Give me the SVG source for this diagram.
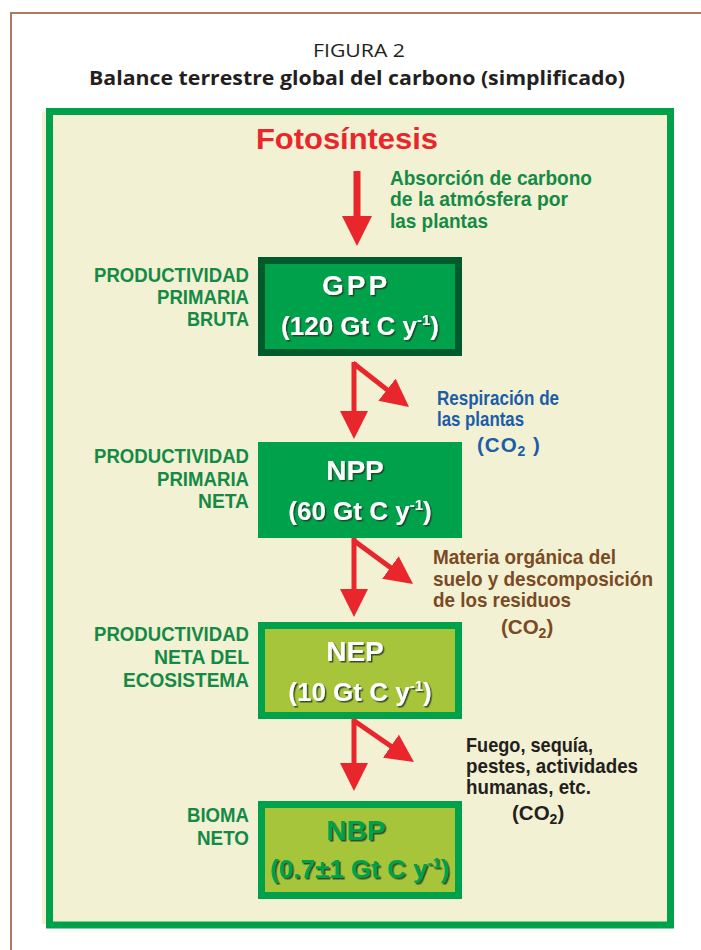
<svg xmlns="http://www.w3.org/2000/svg" width="701" height="950" viewBox="0 0 701 950">
<defs>
<style>
.lbl{font-family:"Liberation Sans",Arial,sans-serif;font-weight:bold;font-size:20.5px;fill:#148A46;text-anchor:end}
.desc{font-family:"Liberation Sans",Arial,sans-serif;font-weight:bold;font-size:20.5px}
.bt{font-family:"Liberation Sans",Arial,sans-serif;font-weight:bold;font-size:28px;fill:#ffffff;text-anchor:middle}
.bn{font-family:"Liberation Sans",Arial,sans-serif;font-weight:bold;font-size:26px;fill:#ffffff;text-anchor:middle}
.arr{stroke:#E8262B;stroke-width:5;fill:none}
</style>
<filter id="sh" x="-10%" y="-30%" width="120%" height="160%">
<feDropShadow dx="1.5" dy="1.5" stdDeviation="0.4" flood-color="#1B3A22" flood-opacity="0.85"/>
</filter>
<marker id="head" markerUnits="userSpaceOnUse" markerWidth="28" markerHeight="28" refX="8" refY="14" orient="auto">
<path d="M0,0 L28,14 L0,28 Z" fill="#E8262B"/>
</marker>
<marker id="headL" markerUnits="userSpaceOnUse" markerWidth="30" markerHeight="30" refX="10" refY="15" orient="auto">
<path d="M0,0 L30,15 L0,30 Z" fill="#E8262B"/>
</marker>
</defs>
<rect x="0" y="0" width="701" height="950" fill="#ffffff"/>
<g id="frame">
<path d="M11,950 L11,13 L701,13" fill="none" stroke="#B07860" stroke-width="2"/>
<text x="359" y="57" font-family="'Open Sans','Noto Sans',sans-serif" font-size="18" fill="#231F20" text-anchor="middle" textLength="92" lengthAdjust="spacingAndGlyphs">FIGURA 2</text>
<text x="357" y="85" font-family="'Open Sans','Noto Sans',sans-serif" font-size="19" font-weight="bold" fill="#231F20" text-anchor="middle" textLength="536" lengthAdjust="spacingAndGlyphs">Balance terrestre global del carbono (simplificado)</text>
<rect x="42" y="112" width="628" height="812" fill="#F3F1D3"/>
<rect x="49.5" y="111.5" width="621" height="813.5" fill="none" stroke="#00A14B" stroke-width="7"/>
</g>
<g id="fotosintesis">
<text x="347" y="149" font-family="'Liberation Sans',Arial,sans-serif" font-weight="bold" font-size="30" fill="#E8262B" text-anchor="middle" textLength="182" lengthAdjust="spacingAndGlyphs">Fotosíntesis</text>
</g>
<g id="absorcion" class="desc" fill="#148A46">
<text x="390" y="185" textLength="202" lengthAdjust="spacingAndGlyphs">Absorción de carbono</text>
<text x="390" y="206" textLength="178" lengthAdjust="spacingAndGlyphs">de la atmósfera por</text>
<text x="390" y="228" textLength="98" lengthAdjust="spacingAndGlyphs">las plantas</text>
</g>
<g id="gpp">
<rect x="261.5" y="260.5" width="197" height="92" fill="#00A14B" stroke="#005A2B" stroke-width="7"/>
<text class="bt" x="356" y="295" letter-spacing="3" filter="url(#sh)">GPP</text>
<text class="bn" x="360" y="335" filter="url(#sh)">(120 Gt C y<tspan font-size="15" dy="-10">-1</tspan><tspan dy="10">)</tspan></text>
</g>
<g id="gpp-label" class="lbl">
<text x="249" y="282" textLength="155" lengthAdjust="spacingAndGlyphs">PRODUCTIVIDAD</text>
<text x="249" y="304" textLength="92" lengthAdjust="spacingAndGlyphs">PRIMARIA</text>
<text x="249" y="326" textLength="62" lengthAdjust="spacingAndGlyphs">BRUTA</text>
</g>
<g id="respiracion" class="desc" fill="#1C5DA8">
<text x="437" y="405" textLength="122" lengthAdjust="spacingAndGlyphs">Respiración de</text>
<text x="437" y="426" textLength="87" lengthAdjust="spacingAndGlyphs">las plantas</text>
<text x="477" y="452" letter-spacing="1">(CO<tspan font-size="14" dy="4">2</tspan><tspan dy="-4"> )</tspan></text>
</g>
<g id="npp">
<rect x="258" y="442" width="204" height="96" fill="#00A14B"/>
<text class="bt" x="355" y="480" filter="url(#sh)">NPP</text>
<text class="bn" x="360" y="520" filter="url(#sh)">(60 Gt C y<tspan font-size="15" dy="-10">-1</tspan><tspan dy="10">)</tspan></text>
</g>
<g id="npp-label" class="lbl">
<text x="249" y="463" textLength="155" lengthAdjust="spacingAndGlyphs">PRODUCTIVIDAD</text>
<text x="249" y="486" textLength="92" lengthAdjust="spacingAndGlyphs">PRIMARIA</text>
<text x="249" y="508" textLength="51" lengthAdjust="spacingAndGlyphs">NETA</text>
</g>
<g id="materia" class="desc" fill="#7A4A24">
<text x="433" y="564" textLength="183" lengthAdjust="spacingAndGlyphs">Materia orgánica del</text>
<text x="433" y="586" textLength="220" lengthAdjust="spacingAndGlyphs">suelo y descomposición</text>
<text x="433" y="607" textLength="138" lengthAdjust="spacingAndGlyphs">de los residuos</text>
<text x="501" y="634">(CO<tspan font-size="14" dy="4">2</tspan><tspan dy="-4">)</tspan></text>
</g>
<g id="nep">
<rect x="261.5" y="625.5" width="197" height="90" fill="#A7C53B" stroke="#00A14B" stroke-width="7"/>
<text class="bt" x="355" y="661" filter="url(#sh)">NEP</text>
<text class="bn" x="360" y="701" filter="url(#sh)">(10 Gt C y<tspan font-size="15" dy="-10">-1</tspan><tspan dy="10">)</tspan></text>
</g>
<g id="nep-label" class="lbl">
<text x="249" y="641" textLength="155" lengthAdjust="spacingAndGlyphs">PRODUCTIVIDAD</text>
<text x="249" y="664" textLength="95" lengthAdjust="spacingAndGlyphs">NETA DEL</text>
<text x="249" y="687" textLength="126" lengthAdjust="spacingAndGlyphs">ECOSISTEMA</text>
</g>
<g id="fuego" class="desc" fill="#231F20">
<text x="466" y="752" textLength="127" lengthAdjust="spacingAndGlyphs">Fuego, sequía,</text>
<text x="466" y="773" textLength="172" lengthAdjust="spacingAndGlyphs">pestes, actividades</text>
<text x="466" y="794" textLength="125" lengthAdjust="spacingAndGlyphs">humanas, etc.</text>
<text x="512" y="820">(CO<tspan font-size="14" dy="4">2</tspan><tspan dy="-4">)</tspan></text>
</g>
<g id="nbp">
<rect x="261.5" y="804.5" width="197" height="91" fill="#A7C53B" stroke="#00A14B" stroke-width="7"/>
<text class="bt" x="356" y="840" style="fill:#00A14B" filter="url(#sh)">NBP</text>
<text class="bn" x="360" y="878" style="fill:#00A14B" filter="url(#sh)">(0.7±1 Gt C y<tspan font-size="15" dy="-10">-1</tspan><tspan dy="10">)</tspan></text>
</g>
<g id="nbp-label" class="lbl">
<text x="249" y="822" textLength="62" lengthAdjust="spacingAndGlyphs">BIOMA</text>
<text x="249" y="845" textLength="52" lengthAdjust="spacingAndGlyphs">NETO</text>
</g>
<g id="connectors">
<line x1="357" y1="171" x2="357" y2="226" stroke="#E8262B" stroke-width="7" marker-end="url(#headL)"/>
<line class="arr" x1="354" y1="362" x2="354" y2="419" marker-end="url(#head)"/>
<line class="arr" x1="353" y1="363" x2="393.3" y2="394.6" marker-end="url(#head)"/>
<line class="arr" x1="354" y1="538" x2="354" y2="597" marker-end="url(#head)"/>
<line class="arr" x1="353" y1="540" x2="396.9" y2="572.2" marker-end="url(#head)"/>
<line class="arr" x1="354" y1="719" x2="354" y2="771" marker-end="url(#head)"/>
<line class="arr" x1="353" y1="720" x2="397.5" y2="750.7" marker-end="url(#head)"/>
</g>
</svg>
